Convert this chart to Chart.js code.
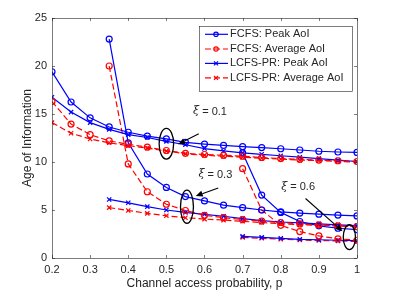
<!DOCTYPE html>
<html>
<head>
<meta charset="utf-8">
<script src="https://cdn.jsdelivr.net/npm/chart.js@4.4.0/dist/chart.umd.min.js"></script>
<style>
html, body { margin: 0; padding: 0; background: #fff; }
</style>
</head>
<body>
<canvas id="aoi" width="395" height="296"></canvas>
<script>
// 数据：信道接入概率
const pXi01 = [0.2, 0.25, 0.3, 0.35, 0.4, 0.45, 0.5, 0.55, 0.6, 0.65, 0.7, 0.75, 0.8, 0.85, 0.9, 0.95, 1];
const pXi03 = [0.35, 0.4, 0.45, 0.5, 0.55, 0.6, 0.65, 0.7, 0.75, 0.8, 0.85, 0.9, 0.95, 1];
const pXi06 = [0.7, 0.75, 0.8, 0.85, 0.9, 0.95, 1];

// xi = 0.1
const fcfsPeak01 = [19.4, 16.25, 14.6, 13.65, 13.1, 12.7, 12.4, 12.05, 11.87, 11.73, 11.6, 11.5, 11.38, 11.25, 11.12, 11.04, 11.0];
const fcfsAvg01 = [16.3, 13.95, 12.85, 12.2, 11.85, 11.55, 11.2, 10.9, 10.78, 10.7, 10.6, 10.47, 10.36, 10.28, 10.2, 10.13, 10.05];
const lcfsPeak01 = [16.75, 15.2, 14.1, 13.4, 12.85, 12.55, 12.15, 11.8, 11.4, 11.15, 10.95, 10.8, 10.65, 10.5, 10.35, 10.2, 10.05];
const lcfsAvg01 = [14.1, 13.0, 12.4, 12.0, 11.7, 11.45, 11.15, 10.85, 10.7, 10.6, 10.5, 10.4, 10.3, 10.2, 10.15, 10.05, 10.0];

// xi = 0.3
const fcfsPeak03 = [22.8, 12.0, 8.75, 7.35, 6.4, 5.95, 5.5, 5.25, 5.0, 4.8, 4.68, 4.57, 4.47, 4.38];
const fcfsAvg03 = [20.0, 9.8, 6.9, 5.6, 4.95, 4.45, 4.2, 4.0, 3.85, 3.7, 3.55, 3.45, 3.35, 3.28];
const lcfsPeak03 = [6.1, 5.75, 5.35, 5.0, 4.75, 4.55, 4.35, 4.1, 3.9, 3.75, 3.65, 3.55, 3.45, 3.38];
const lcfsAvg03 = [5.25, 4.95, 4.65, 4.4, 4.2, 4.05, 3.95, 3.82, 3.7, 3.57, 3.48, 3.4, 3.33, 3.28];

// xi = 0.6
const fcfsPeak06 = [10.95, 6.55, 4.75, 3.8, 3.35, 3.1, 2.95];
const fcfsAvg06 = [9.3, 5.0, 3.4, 2.75, 2.3, 2.0, 1.85];
const lcfsPeak06 = [2.25, 2.15, 2.05, 1.95, 1.9, 1.85, 1.8];
const lcfsAvg06 = [2.15, 2.05, 1.95, 1.88, 1.82, 1.78, 1.72];

const xTicks = [0.2, 0.3, 0.4, 0.5, 0.6, 0.7, 0.8, 0.9, 1];
const yTicks = [0, 5, 10, 15, 20, 25];
const legendLabels = ['FCFS: Peak AoI', 'FCFS: Average AoI', 'LCFS-PR: Peak AoI', 'LCFS-PR: Average AoI'];
const xiLabels = ['0.1', '0.3', '0.6'];

const BLUE = 'rgb(0,0,255)';
const RED = 'rgb(255,0,0)';
const AXIS = '#262626';
const FONT = '"Liberation Sans", Arial, Helvetica, sans-serif';

// 四种曲线样式
const styles = [
    { color: BLUE, marker: 'circle', dash: [] },
    { color: RED, marker: 'circle', dash: [6, 3] },
    { color: BLUE, marker: 'crossRot', dash: [] },
    { color: RED, marker: 'crossRot', dash: [6, 3] }
];

function makeSet(xs, ys, style) {
    return {
        data: xs.map((p, i) => ({ x: p, y: ys[i] })),
        borderColor: style.color,
        backgroundColor: 'rgba(0,0,0,0)',
        borderWidth: 1.2,
        borderDash: style.dash,
        pointStyle: style.marker,
        pointRadius: 3,
        pointBorderWidth: 1.2,
        pointBorderColor: style.color,
        pointBackgroundColor: 'rgba(0,0,0,0)',
        tension: 0,
        fill: false
    };
}

const groups = [
    [pXi01, [fcfsPeak01, fcfsAvg01, lcfsPeak01, lcfsAvg01]],
    [pXi03, [fcfsPeak03, fcfsAvg03, lcfsPeak03, lcfsAvg03]],
    [pXi06, [fcfsPeak06, fcfsAvg06, lcfsPeak06, lcfsAvg06]]
];
const datasets = [];
groups.forEach(([xs, series]) => {
    series.forEach((ys, k) => datasets.push(makeSet(xs, ys, styles[k])));
});

// 注释：椭圆 [x, y, rx, ry]（数据单位），箭头起止点，文字位置
const notes = [
    { ellipse: [0.5, 11.9, 0.019, 1.6], arrow: [0.585, 12.95, 0.531, 11.85], text: [0.57, 15.25] },
    { ellipse: [0.554, 5.34, 0.017, 1.72], arrow: [0.636, 7.3, 0.577, 6.45], text: [0.584, 8.7] },
    { ellipse: [0.98, 2.17, 0.016, 1.3], arrow: [0.865, 6.2, 0.962, 2.78], text: [0.801, 7.35] }
];

function drawArrow(ctx, x1, y1, x2, y2) {
    const ang = Math.atan2(y2 - y1, x2 - x1);
    const head = 7, wing = 3;
    const bx = x2 - head * Math.cos(ang), by = y2 - head * Math.sin(ang);
    ctx.beginPath();
    ctx.moveTo(x1, y1);
    ctx.lineTo(bx, by);
    ctx.stroke();
    ctx.beginPath();
    ctx.moveTo(x2, y2);
    ctx.lineTo(bx + wing * Math.sin(ang), by - wing * Math.cos(ang));
    ctx.lineTo(bx - wing * Math.sin(ang), by + wing * Math.cos(ang));
    ctx.closePath();
    ctx.fill();
}

const matlabPlugin = {
    id: 'matlabBox',
    afterDraw(chart) {
        const { ctx, chartArea: a, scales: { x, y } } = chart;
        ctx.save();

        // 坐标框和内向刻度
        ctx.strokeStyle = AXIS;
        ctx.lineWidth = 0.6;
        ctx.strokeRect(Math.round(a.left) + 0.5, Math.round(a.top) + 0.5,
            Math.round(a.right - a.left), Math.round(a.bottom - a.top));
        ctx.beginPath();
        xTicks.forEach(v => {
            const px = Math.round(x.getPixelForValue(v)) + 0.5;
            ctx.moveTo(px, a.bottom); ctx.lineTo(px, a.bottom - 3);
            ctx.moveTo(px, a.top); ctx.lineTo(px, a.top + 3);
        });
        yTicks.forEach(v => {
            const py = Math.round(y.getPixelForValue(v)) + 0.5;
            ctx.moveTo(a.left, py); ctx.lineTo(a.left + 3, py);
            ctx.moveTo(a.right, py); ctx.lineTo(a.right - 3, py);
        });
        ctx.stroke();

        // 椭圆、箭头、xi 标签
        ctx.strokeStyle = '#000';
        ctx.fillStyle = '#000';
        notes.forEach((n, i) => {
            const [ex, ey, erx, ery] = n.ellipse;
            const cx = x.getPixelForValue(ex), cy = y.getPixelForValue(ey);
            const rx = Math.abs(x.getPixelForValue(ex + erx) - cx);
            const ry = Math.abs(y.getPixelForValue(ey + ery) - cy);
            ctx.lineWidth = 1.3;
            ctx.beginPath();
            ctx.ellipse(cx, cy, rx, ry, 0, 0, Math.PI * 2);
            ctx.stroke();

            ctx.lineWidth = 1.1;
            drawArrow(ctx, x.getPixelForValue(n.arrow[0]), y.getPixelForValue(n.arrow[1]),
                x.getPixelForValue(n.arrow[2]), y.getPixelForValue(n.arrow[3]));

            const tx = x.getPixelForValue(n.text[0]), ty = y.getPixelForValue(n.text[1]);
            ctx.fillStyle = AXIS;
            ctx.textBaseline = 'middle';
            ctx.textAlign = 'left';
            ctx.font = 'italic 11px "DejaVu Serif", serif';
            ctx.fillText('\u03BE', tx, ty);
            const w = ctx.measureText('\u03BE').width;
            ctx.font = '11px ' + FONT;
            ctx.fillText(' = ' + xiLabels[i], tx + w, ty);
            ctx.fillStyle = '#000';
        });

        // 图例
        const lx = 199, ly = 26, lw = 153, lh = 65;
        ctx.fillStyle = '#fff';
        ctx.fillRect(lx, ly, lw, lh);
        ctx.strokeStyle = AXIS;
        ctx.lineWidth = 0.6;
        ctx.strokeRect(lx + 0.5, ly + 0.5, lw, lh);
        ctx.font = '11px ' + FONT;
        ctx.textBaseline = 'middle';
        ctx.textAlign = 'left';
        const rows = [34.3, 49, 63.4, 77.8];
        legendLabels.forEach((label, i) => {
            const s = styles[i], ry = rows[i];
            ctx.strokeStyle = s.color;
            ctx.lineWidth = 1.2;
            ctx.setLineDash(s.dash);
            ctx.beginPath();
            ctx.moveTo(205, ry); ctx.lineTo(228, ry);
            ctx.stroke();
            ctx.setLineDash([]);
            ctx.beginPath();
            if (s.marker === 'circle') {
                ctx.arc(216, ry, 2.2, 0, Math.PI * 2);
            } else {
                ctx.moveTo(214, ry - 2); ctx.lineTo(218, ry + 2);
                ctx.moveTo(214, ry + 2); ctx.lineTo(218, ry - 2);
            }
            ctx.stroke();
            ctx.fillStyle = AXIS;
            ctx.fillText(label, 230, ry);
        });
        ctx.restore();
    }
};

new Chart(document.getElementById('aoi'), {
    type: 'line',
    data: { datasets: datasets },
    options: {
        responsive: false,
        animation: false,
        layout: { padding: { top: 18, right: 38, left: 0, bottom: 0 } },
        plugins: {
            legend: { display: false },
            tooltip: { enabled: false }
        },
        scales: {
            x: {
                type: 'linear',
                min: 0.2,
                max: 1,
                afterBuildTicks: s => { s.ticks = xTicks.map(v => ({ value: v })); },
                afterFit: s => { s.height = 38; },
                grid: { display: false, drawTicks: false },
                border: { display: false },
                ticks: {
                    padding: 5,
                    color: AXIS,
                    font: { family: FONT, size: 11 },
                    callback: v => String(Math.round(v * 10) / 10)
                },
                title: {
                    display: true,
                    text: 'Channel access probability, p',
                    color: AXIS,
                    font: { family: FONT, size: 12 },
                    padding: { top: 0, bottom: 5 }
                }
            },
            y: {
                min: 0,
                max: 25,
                afterBuildTicks: s => { s.ticks = yTicks.map(v => ({ value: v })); },
                afterFit: s => { s.width = 52; },
                grid: { display: false, drawTicks: false },
                border: { display: false },
                ticks: {
                    padding: 5,
                    color: AXIS,
                    font: { family: FONT, size: 11 }
                },
                title: {
                    display: true,
                    text: 'Age of Information',
                    color: AXIS,
                    font: { family: FONT, size: 12 },
                    padding: { top: 20, bottom: 0 }
                }
            }
        }
    },
    plugins: [matlabPlugin]
});
</script>
</body>
</html>
